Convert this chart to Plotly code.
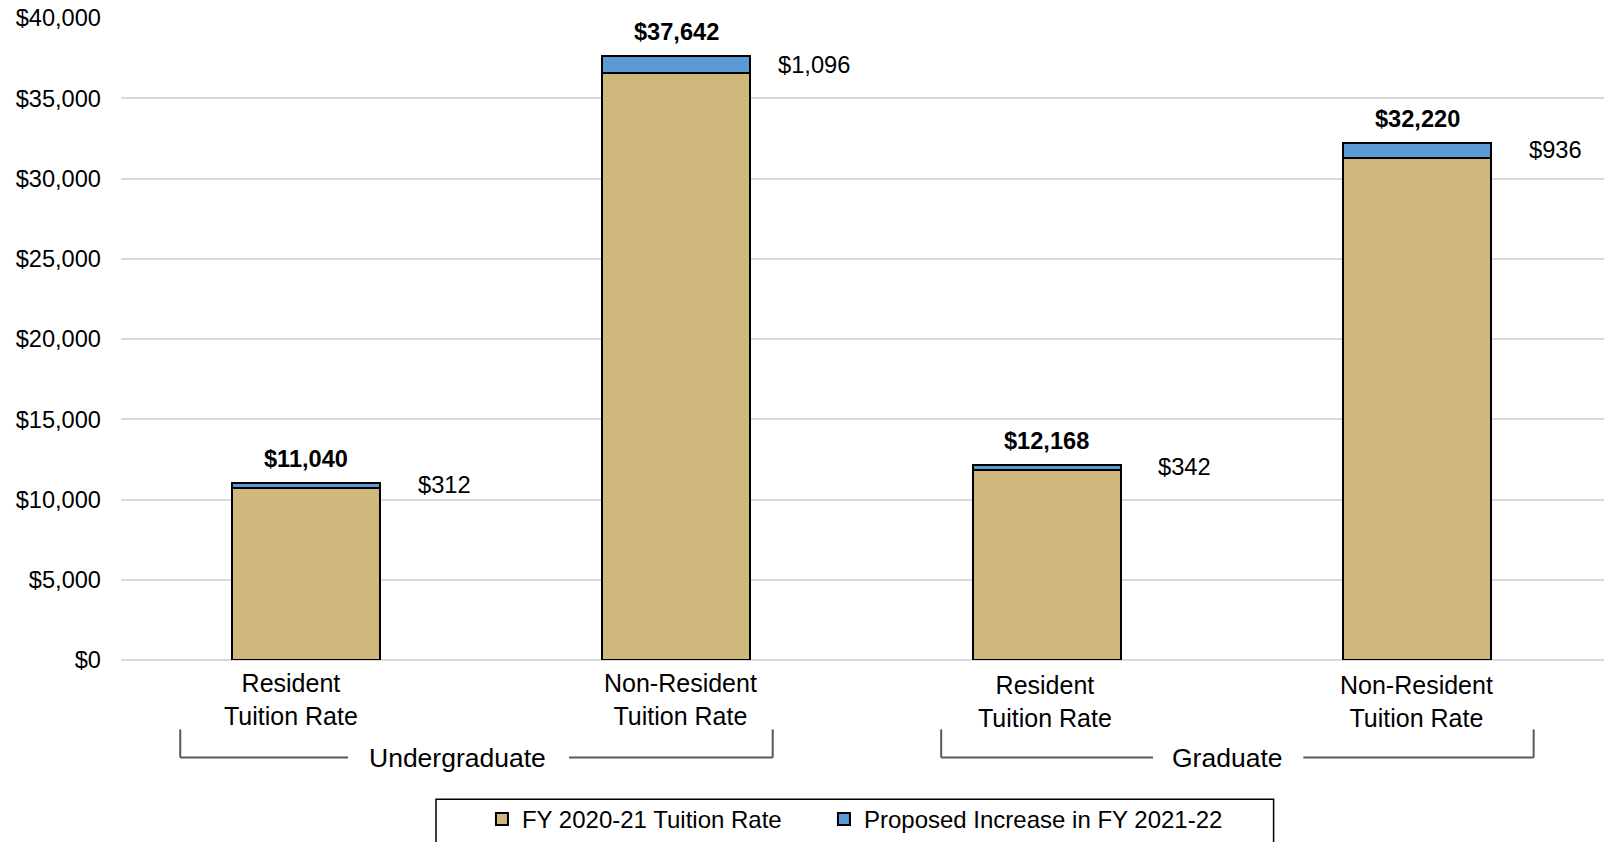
import plotly.graph_objects as go

# ---- data ----
rate_labels = ["Resident<br>Tuition Rate", "Non-Resident<br>Tuition Rate",
               "Resident<br>Tuition Rate", "Non-Resident<br>Tuition Rate"]
levels = ["Undergraduate", "Graduate"]
base_fy2021 = [10728, 36546, 11826, 31284]
increase_fy2122 = [312, 1096, 342, 936]
series_names = ["FY 2020-21 Tuition Rate", "Proposed Increase in FY 2021-22"]
y_ticks = [0, 5000, 10000, 15000, 20000, 25000, 30000, 35000, 40000]

totals = [b + i for b, i in zip(base_fy2021, increase_fy2122)]
x = list(range(len(base_fy2021)))

FONT = "Liberation Sans, Arial, sans-serif"
TAN = "#CFB87C"
BLUE = "#5B9BD5"
BRACKET = "#595959"

fig = go.Figure()
fig.add_trace(go.Bar(x=x, y=base_fy2021, name=series_names[0], width=0.4, legend="legend",
                     marker=dict(color=TAN, line=dict(color="black", width=2))))
fig.add_trace(go.Bar(x=x, y=increase_fy2122, name=series_names[1], width=0.4, legend="legend2",
                     marker=dict(color=BLUE, line=dict(color="black", width=2))))

ann = []
for xi, t, b, inc in zip(x, totals, base_fy2021, increase_fy2122):
    ann.append(dict(x=xi, y=t, xref="x", yref="y", text=f"<b>${t:,}</b>",
                    showarrow=False, yanchor="bottom", yshift=9,
                    font=dict(size=23.6, color="black", family=FONT)))
    ann.append(dict(x=xi, y=b + inc / 2, xref="x", yref="y", text=f"${inc:,}",
                    showarrow=False, xanchor="center", yanchor="middle", xshift=138,
                    font=dict(size=23.7, color="black", family=FONT)))

label_shift = [-15, 4, -2, -1]
label_yshift = [-7, -7, -9, -9]
for xi, lab, xs, ys in zip(x, rate_labels, label_shift, label_yshift):
    ann.append(dict(x=xi, y=0, xref="x", yref="y", text=lab, showarrow=False,
                    yanchor="top", xshift=xs, yshift=ys,
                    font=dict(size=25, color="black", family=FONT)))

# group brackets: (left end, gap start, gap end, right end, text centre)
brackets = [(-0.34, 0.113, 0.71, 1.26, 0.409), (1.715, 2.287, 2.693, 3.315, 2.489)]
y_top, y_bot = -0.108, -0.152
shapes = []
for (x0, g0, g1, x1, xc), lvl in zip(brackets, levels):
    for xx in (x0, x1):
        shapes.append(dict(type="line", xref="x", yref="paper", x0=xx, x1=xx,
                           y0=y_top, y1=y_bot, line=dict(color=BRACKET, width=2)))
    for a, b in ((x0, g0), (g1, x1)):
        shapes.append(dict(type="line", xref="x", yref="paper", x0=a, x1=b,
                           y0=y_bot, y1=y_bot, line=dict(color=BRACKET, width=2)))
    ann.append(dict(x=xc, y=y_bot, xref="x", yref="paper", text=lvl, showarrow=False,
                    yanchor="middle",
                    font=dict(size=26.5, color="black", family=FONT)))

# legend box
shapes.append(dict(type="rect", xref="paper", yref="paper", x0=0.2124, x1=0.7772,
                   y0=-0.217, y1=-0.33, line=dict(color="black", width=1.5),
                   fillcolor="rgba(0,0,0,0)"))

leg_common = dict(orientation="h", xanchor="left", y=-0.213, yanchor="top",
                  bgcolor="rgba(0,0,0,0)", borderwidth=0, itemwidth=30,
                  font=dict(size=24, family=FONT, color="black"))

fig.update_layout(
    width=1604, height=842,
    margin=dict(l=121, r=0, t=18, b=181),
    plot_bgcolor="white", paper_bgcolor="white",
    barmode="stack", bargap=0.6,
    font=dict(family=FONT, size=24, color="black"),
    xaxis=dict(range=[-0.5, 3.505], showticklabels=False, showgrid=False,
               zeroline=False, showline=False, fixedrange=True),
    yaxis=dict(range=[0, 40000], tickmode="array", tickvals=y_ticks,
               ticktext=[f"${v:,}" for v in y_ticks],
               showgrid=True, gridcolor="#D9D9D9", gridwidth=2,
               zeroline=True, zerolinecolor="#D9D9D9", zerolinewidth=2,
               showline=False, ticklabelstandoff=19,
               tickfont=dict(size=23.6, family=FONT, color="black")),
    legend=dict(x=0.2434, **leg_common),
    legend2=dict(x=0.474, **leg_common),
    annotations=ann, shapes=shapes, showlegend=True,
)

fig.write_html("out.html", config={"displayModeBar": False},
               post_script="document.body.style.margin='0';document.body.style.overflow='hidden';")
